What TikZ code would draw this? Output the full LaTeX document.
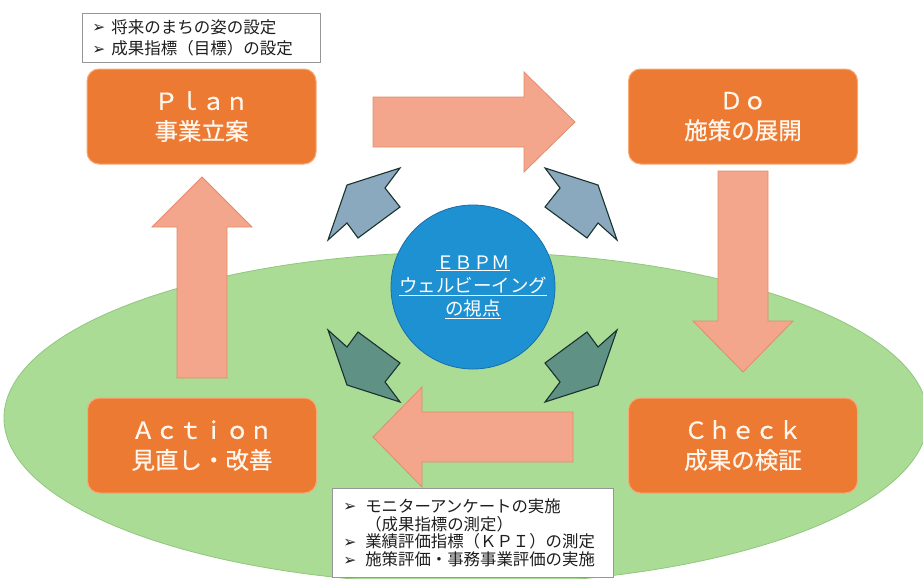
\documentclass[tikz,border=0pt]{standalone}
\usepackage{fontspec}
\setmainfont{Noto Sans CJK JP}
\newfontfamily\jpheavy[FakeBold=0.7]{Noto Sans CJK JP}
\newfontfamily\symfont{DejaVu Sans}
\definecolor{boxorange}{RGB}{237,122,50}
\definecolor{boxrim}{RGB}{246,170,120}
\definecolor{arrowfill}{RGB}{243,166,140}
\definecolor{arrowline}{RGB}{226,140,108}
\definecolor{circblue}{RGB}{30,145,210}
\definecolor{circline}{RGB}{25,110,170}
\definecolor{ellgreen}{RGB}{170,220,150}
\definecolor{ellline}{RGB}{145,198,125}
\definecolor{chevtop}{RGB}{138,168,190}
\definecolor{chevbot}{RGB}{95,145,132}
\definecolor{chevline}{RGB}{25,50,45}
\definecolor{txtwhite}{RGB}{255,247,238}
\newcommand{\bul}[1]{\makebox[#1][l]{\raisebox{0.5pt}{\symfont\fontsize{15.5}{15.5}\selectfont ➢}}}
\tikzset{
  phasebox/.style={rectangle, rounded corners=12pt, fill=boxorange, draw=boxrim, line width=1pt,
    minimum width=229pt, minimum height=95pt, text=txtwhite, align=center,
    font=\jpheavy\fontsize{23.5}{30}\selectfont},
  blockarrow/.style={fill=arrowfill, draw=arrowline, line width=0.8pt, line join=miter},
  chevtopst/.style={fill=chevtop, draw=chevline, line width=1.1pt, line join=miter},
  chevbotst/.style={fill=chevbot, draw=chevline, line width=1.1pt, line join=miter},
  infobox/.style={rectangle, fill=white, draw={rgb,255:red,150;green,150;blue,150}, line width=0.6pt,
    align=left, text={rgb,255:red,30;green,30;blue,30}, anchor=north west},
  hubcircle/.style={circle, fill=circblue, draw=circline, line width=0.8pt, minimum size=164pt,
    text=white, align=center, inner sep=0pt, font=\fontsize{18.5}{23}\selectfont}
}
\begin{document}
\begin{tikzpicture}[x=1pt, y=-1pt]
\useasboundingbox (0,0) rectangle (923,578);
% background ellipse
\draw[fill=ellgreen, draw=ellline, line width=0.8pt] (466,418) ellipse [x radius=462, y radius=166];

% phase boxes
\node[phasebox] (plan) at (201.5,116.5) {Ｐｌａｎ\\事業立案};
\node[phasebox] (do) at (743,116.5) {Ｄｏ\\施策の展開};
\node[phasebox] (check) at (743,445.5) {Ｃｈｅｃｋ\\成果の検証};
\node[phasebox] (action) at (202,445.5) {Ａｃｔｉｏｎ\\見直し・改善};

% block arrows
\draw[blockarrow] (373,97) -- (524,97) -- (524,72) -- (575,122) -- (524,172) -- (524,147) -- (373,147) -- cycle;
\draw[blockarrow] (718,171) -- (768,171) -- (768,321) -- (793,321) -- (743,372) -- (693,321) -- (718,321) -- cycle;
\draw[blockarrow] (573,412) -- (422,412) -- (422,387) -- (373,437) -- (422,487) -- (422,462) -- (573,462) -- cycle;
\draw[blockarrow] (177,378) -- (177,227) -- (152,227) -- (202,177) -- (252,227) -- (227,227) -- (227,378) -- cycle;

% central circle
\node[hubcircle] (ebpm) at (473,287) {\underline{ＥＢＰＭ}\\\underline{ウェルビーイング}\\\underline{の視点}};

% chevron arrows
\draw[chevtopst] (347,185) -- (400,168) -- (385,188) -- (400,207) -- (358,238) -- (347,223) -- (328,240) -- cycle;
\draw[chevtopst] (598,185) -- (545,168) -- (560,188) -- (545,207) -- (587,238) -- (598,223) -- (617,240) -- cycle;
\draw[chevbotst] (347,385) -- (400,402) -- (385,382) -- (400,363) -- (358,332) -- (347,347) -- (328,330) -- cycle;
\draw[chevbotst] (598,385) -- (545,402) -- (560,382) -- (545,363) -- (587,332) -- (598,347) -- (617,330) -- cycle;

% info boxes
\node[infobox, minimum width=238pt, minimum height=49pt, inner xsep=10pt, inner ysep=4pt,
  text width=218pt, font=\fontsize{16.5}{21.5}\selectfont] (planinfo) at (82,13)
  {\bul{19pt}将来のまちの姿の設定\\\bul{19pt}成果指標（目標）の設定};
\node[infobox, minimum width=281pt, minimum height=89pt, inner xsep=11pt, inner ysep=3pt,
  text width=259pt, font=\fontsize{16.4}{17.7}\selectfont] (checkinfo) at (332,488)
  {\bul{22pt}モニターアンケートの実施\\\hspace*{22pt}（成果指標の測定）\\\bul{22pt}業績評価指標（ＫＰＩ）の測定\\\bul{22pt}施策評価・事務事業評価の実施};
\end{tikzpicture}
\end{document}
